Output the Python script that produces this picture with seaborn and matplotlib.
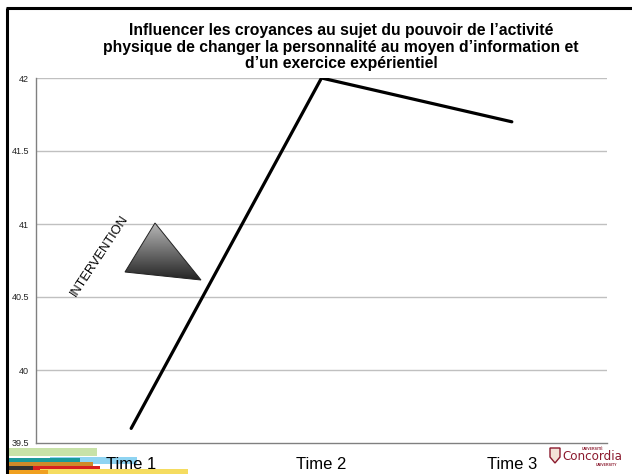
import numpy as np
import pandas as pd
import matplotlib
matplotlib.use("Agg")
import matplotlib.pyplot as plt
import seaborn as sns
from matplotlib.patches import Polygon, Rectangle

# ---- data ----
categories = ["Time 1", "Time 2", "Time 3"]
values = [39.6, 42.0, 41.7]
yticks = [39.5, 40, 40.5, 41, 41.5, 42]
ytick_labels = ["39.5", "40", "40.5", "41", "41.5", "42"]
title = ("Influencer les croyances au sujet du pouvoir de l\u2019activit\u00e9\n"
         "physique de changer la personnalit\u00e9 au moyen d\u2019information et\n"
         "d\u2019un exercice exp\u00e9rientiel")
annotation = "INTERVENTION"

sns.set_theme(style="white")
plt.rcParams["font.family"] = ["Liberation Sans", "DejaVu Sans"]

W, H = 632, 474
fig = plt.figure(figsize=(W / 100, H / 100), dpi=100)
fig.patch.set_facecolor("white")

# background layer (pixel coords): slide border and colored stripes
bg = fig.add_axes([0, 0, 1, 1], zorder=-1)
bg.set_xlim(0, W)
bg.set_ylim(H, 0)
bg.axis("off")
bg.plot([7, 7], [H, 8], color="black", linewidth=2.2, solid_capstyle="butt")
bg.plot([6, W], [8, 8], color="black", linewidth=2.2, solid_capstyle="butt")
stripes = [
    (8, 448, 89, 8, "#c8e2a8"),
    (50, 457, 87, 7, "#8fd4f2"),
    (8, 458, 72, 4, "#1a9a9a"),
    (8, 462, 85, 5, "#d08a2a"),
    (30, 466, 70, 8, "#d82020"),
    (40, 469, 148, 5, "#f5dc60"),
    (8, 466, 25, 4, "#333333"),
    (8, 470, 40, 4, "#f0a020"),
]
for sx, sy, sw, sh, c in stripes:
    bg.add_patch(Rectangle((sx, sy), sw, sh, facecolor=c, edgecolor="none"))

# main axes in pixel layout
x0, x1, ytop, ybot = 36, 607, 78, 443
ax = fig.add_axes([x0 / W, 1 - ybot / H, (x1 - x0) / W, (ybot - ytop) / H], zorder=1)
ax.patch.set_alpha(0)

df = pd.DataFrame({"time": categories, "score": values})
sns.lineplot(data=df, x="time", y="score", ax=ax, color="black",
             linewidth=2.3, sort=False, zorder=3)

ax.set_xlim(-0.5, 2.5)
ax.set_ylim(39.5, 42)
ax.set_yticks(yticks)
ax.set_yticklabels(ytick_labels, fontsize=6.5, color="#222222")
ax.set_xticks(range(len(categories)))
ax.set_xticklabels(categories, fontsize=12, color="black")
ax.set_xlabel("")
ax.set_ylabel("")
ax.grid(False)
for y in yticks[1:]:
    ax.axhline(y, color="#c0c0c0", linewidth=1.0, zorder=1)

ax.set_xticks([-0.5, 0.5, 1.5, 2.5], minor=True)
ax.tick_params(axis="x", which="major", length=0, pad=10)
ax.tick_params(axis="x", which="minor", length=4, width=0.8, color="#808080", direction="out")
ax.tick_params(axis="y", length=3, width=0.8, color="#808080", direction="out", pad=2)
for side in ["top", "right"]:
    ax.spines[side].set_visible(False)
for side in ["left", "bottom"]:
    ax.spines[side].set_color("#808080")
    ax.spines[side].set_linewidth(1.0)

# overlay in pixel coordinates for decorations
ov = fig.add_axes([0, 0, 1, 1], zorder=5)
ov.set_xlim(0, W)
ov.set_ylim(H, 0)
ov.axis("off")
ov.patch.set_alpha(0)

# title
ov.text(341, 47, title, ha="center", va="center", fontsize=11.3,
        fontweight="bold", linespacing=1.1, color="black")

# triangle with gradient
tri = [(155, 223), (125, 272), (201, 280)]
grad = np.linspace(0.75, 0.12, 256).reshape(-1, 1)
im = ov.imshow(grad, extent=[120, 205, 282, 220], cmap="gray", vmin=0, vmax=1,
               aspect="auto", zorder=4)
poly = Polygon(tri, closed=True, facecolor="none", edgecolor="#222222", linewidth=0.7, zorder=5)
ov.add_patch(poly)
im.set_clip_path(poly)
ov.set_xlim(0, W)
ov.set_ylim(H, 0)

# intervention label
ov.text(100, 256, annotation, rotation=56.5, ha="center", va="center",
        fontsize=9.3, color="black", rotation_mode="anchor")

# Concordia logo (text approximation)
shield = Polygon([(550, 448), (560, 448), (560, 457), (555, 463), (550, 457)],
                 closed=True, facecolor="#f3e2d8", edgecolor="#8b1a2e", linewidth=1.0, zorder=4)
ov.add_patch(shield)
ov.text(593, 448.5, "UNIVERSIT\u00c9", fontsize=2.5, color="#8b1a2e", ha="center", va="center",
        fontweight="bold")
ov.text(562, 457, "Concordia", fontsize=8.6, color="#8b1a2e", ha="left", va="center",
        family=["DejaVu Sans"])
ov.text(606, 465.5, "UNIVERSITY", fontsize=2.5, color="#8b1a2e", ha="center", va="center",
        fontweight="bold")

fig.savefig("out.png", dpi=100, facecolor="white")
